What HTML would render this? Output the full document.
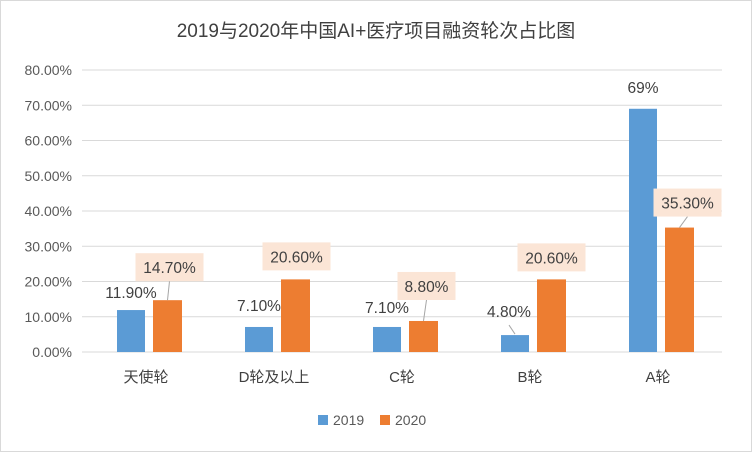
<!DOCTYPE html>
<html><head><meta charset="utf-8"><style>
body{margin:0;background:#fff;}
svg{font-family:"Liberation Sans","Noto Sans CJK SC",sans-serif;}
</style></head><body>
<svg width="752" height="452" viewBox="0 0 752 452">
<rect x="0.5" y="0.5" width="751" height="451" fill="#fff" stroke="#d9d9d9"/>
<text x="376" y="37" text-anchor="middle" font-size="19" fill="#404040">2019与2020年中国AI+医疗项目融资轮次占比图</text>
<g id="grid"></g><g id="bars"></g><g id="labels"></g>
<g>
<rect x="318" y="415" width="10" height="10" fill="#5b9bd5"/>
<text x="333" y="425" font-size="14" fill="#595959">2019</text>
<rect x="380" y="415" width="10" height="10" fill="#ed7d31"/>
<text x="395" y="425" font-size="14" fill="#595959">2020</text>
</g>
</svg>
<script>
const categories=["天使轮","D轮及以上","C轮","B轮","A轮"];
const values2019=[11.9,7.1,7.1,4.8,69];
const values2020=[14.7,20.6,8.8,20.6,35.3];
const labels2019=["11.90%","7.10%","7.10%","4.80%","69%"];
const labels2020=["14.70%","20.60%","8.80%","20.60%","35.30%"];
const ticks=[0,10,20,30,40,50,60,70,80];
const NS="http://www.w3.org/2000/svg";
const x0=82,cw=128,yb=352,ppu=35.25/10;
const y=v=>yb-v*ppu;
function mk(t,a,p){const e=document.createElementNS(NS,t);for(const k in a)e.setAttribute(k,a[k]);p.appendChild(e);return e;}
const g=document.getElementById('grid'),b=document.getElementById('bars'),l=document.getElementById('labels');
ticks.forEach(t=>{
 const ln=mk('line',{x1:x0,x2:722,y1:y(t),y2:y(t),stroke:'#d9d9d9','stroke-width':1},g);
 
 
 const tx=mk('text',{x:72,y:y(t)+5,'text-anchor':'end','font-size':14,fill:'#595959'},g);
 tx.textContent=t.toFixed(2)+'%';
 
 
});
// label placement offsets (layout, not data)
const l19dx=[0,0,0,-6,0], l19dy=[-12,-16,-14,-18,-16];
const l20gap=[19,9,21,8,11], l20dx=[2,1,3,0,8];
categories.forEach((c,i)=>{
 const cx=x0+cw*i+cw/2;
 const bx1=cx-29,bx2=cx+7;
 const r1=mk('rect',{x:bx1,y:y(values2019[i]),width:28,height:values2019[i]*ppu,fill:'#5b9bd5'},b);
 
 
 const r2=mk('rect',{x:bx2,y:y(values2020[i]),width:29,height:values2020[i]*ppu,fill:'#ed7d31'},b);
 
 
 const ct=mk('text',{x:cx,y:yb+30,'text-anchor':'middle','font-size':15,fill:'#404040'},b);
 ct.textContent=c;
 
 
 // 2019 label
 const t1x=bx1+14+l19dx[i], t1y=y(values2019[i])+l19dy[i];
 if(l19dx[i]<-3){const ll=mk('line',{x1:bx1+14,y1:y(values2019[i])-1,x2:t1x,y2:t1y+8,stroke:'#a6a6a6'},l);
  
  }
 const t1=mk('text',{x:t1x,y:t1y,'text-anchor':'middle','font-size':15.5,fill:'#404040'},l);
 t1.textContent=labels2019[i];
 
 
 // 2020 label box
 const bc=bx2+14.5, lx=bc+l20dx[i], by=y(values2020[i])-l20gap[i];
 const w=labels2020[i].length*10+8;
 if(l20gap[i]>10){const ll=mk('line',{x1:bc,y1:y(values2020[i]),x2:lx,y2:by,stroke:'#a6a6a6'},l);
  
  }
 const bg=mk('rect',{x:lx-w/2,y:by-28,width:w,height:28,fill:'#fbe5d6'},l);
 
 
 const t2=mk('text',{x:lx,y:by-8,'text-anchor':'middle','font-size':15.5,fill:'#404040'},l);
 t2.textContent=labels2020[i];
 
 
});
</script>
</body></html>
